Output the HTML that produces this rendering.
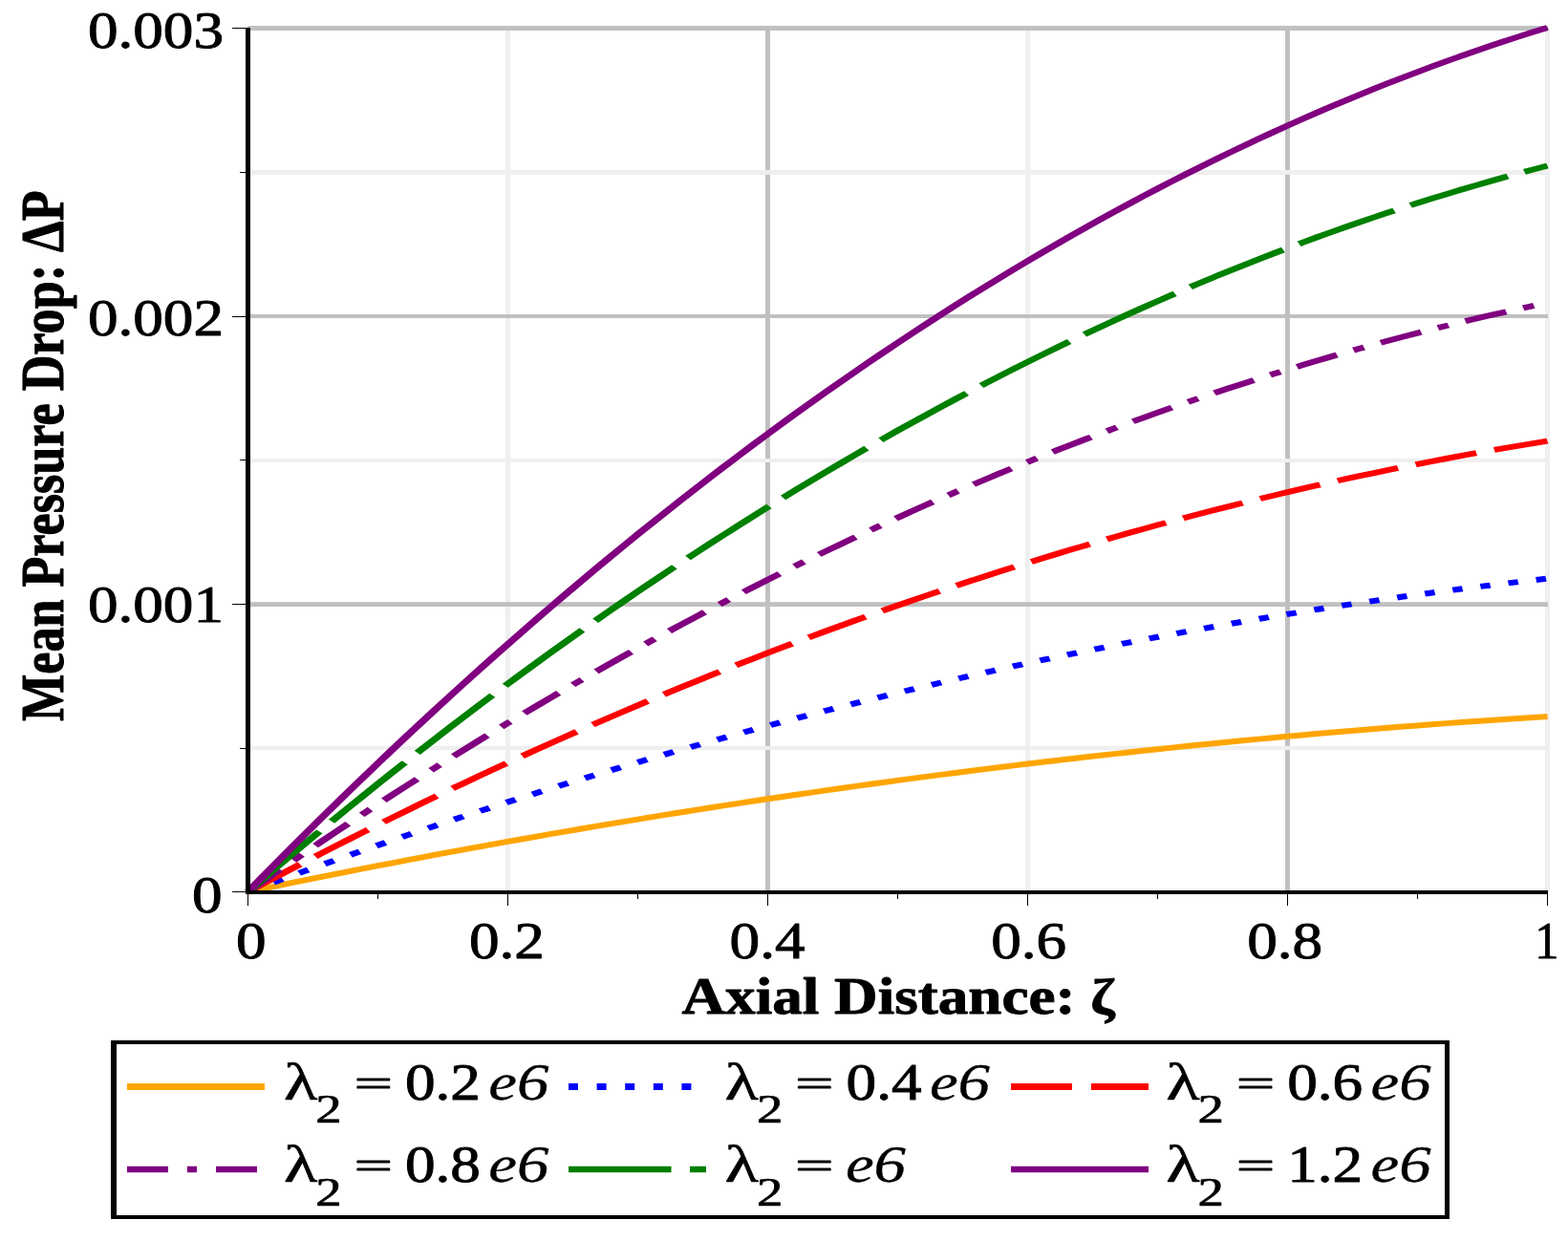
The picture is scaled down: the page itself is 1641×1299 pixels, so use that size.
<!DOCTYPE html>
<html lang="en"><head><meta charset="utf-8"><title>Mean Pressure Drop vs Axial Distance</title>
<style>html,body{margin:0;padding:0;background:#fff}body{width:1641px;height:1299px;overflow:hidden}</style></head>
<body>
<svg width="1641" height="1299" viewBox="0 0 1641 1299" role="img" aria-label="Mean pressure drop versus axial distance for six values of lambda 2" style="display:block"><defs><clipPath id="cp"><rect x="0" y="0" width="1157.50" height="1299"/></clipPath><clipPath id="lc"><rect x="0" y="1080" width="1641" height="200"/></clipPath></defs><rect x="0" y="0" width="1641" height="1299" fill="#fff"/>
<g id="grid">
<rect x="529" y="29" width="5" height="904" fill="#efefef"/>
<rect x="801" y="29" width="5" height="904" fill="#c0c0c0"/>
<rect x="1073" y="29" width="5" height="904" fill="#efefef"/>
<rect x="1345" y="29" width="5" height="904" fill="#c0c0c0"/>
<rect x="1617" y="29" width="5" height="904" fill="#efefef"/>
<rect x="262.6" y="780.8" width="1359.4" height="4.3" fill="#efefef"/>
<rect x="259" y="630.2" width="1361" height="4.8" fill="#c0c0c0"/>
<rect x="262.6" y="480" width="1359.4" height="4" fill="#efefef"/>
<rect x="259" y="329" width="1361" height="4" fill="#c0c0c0"/>
<rect x="262.6" y="177.9" width="1359.4" height="5" fill="#efefef"/>
<rect x="259" y="27" width="1361" height="5" fill="#c0c0c0"/>
</g>
<g id="curves" fill="none" stroke-width="6.0" transform="scale(1.4 1)" clip-path="url(#cp)">
<path d="M185.36,933.50 L196.15,930.37 L206.94,927.26 L217.74,924.18 L228.53,921.13 L239.33,918.10 L250.12,915.09 L260.91,912.11 L271.71,909.15 L282.50,906.21 L293.29,903.30 L304.09,900.42 L314.88,897.56 L325.67,894.72 L336.47,891.91 L347.26,889.13 L358.06,886.36 L368.85,883.63 L379.64,880.91 L390.44,878.22 L401.23,875.56 L412.02,872.92 L422.82,870.31 L433.61,867.71 L444.40,865.15 L455.20,862.61 L465.99,860.09 L476.79,857.60 L487.58,855.13 L498.37,852.69 L509.17,850.27 L519.96,847.87 L530.75,845.50 L541.55,843.16 L552.34,840.84 L563.13,838.54 L573.93,836.27 L584.72,834.02 L595.52,831.80 L606.31,829.60 L617.10,827.43 L627.90,825.28 L638.69,823.15 L649.48,821.05 L660.28,818.98 L671.07,816.92 L681.87,814.90 L692.66,812.89 L703.45,810.92 L714.25,808.96 L725.04,807.04 L735.83,805.13 L746.63,803.25 L757.42,801.40 L768.21,799.57 L779.01,797.76 L789.80,795.98 L800.60,794.22 L811.39,792.49 L822.18,790.78 L832.98,789.10 L843.77,787.44 L854.56,785.80 L865.36,784.19 L876.15,782.61 L886.94,781.05 L897.74,779.51 L908.53,778.00 L919.33,776.51 L930.12,775.05 L940.91,773.61 L951.71,772.20 L962.50,770.81 L973.29,769.44 L984.09,768.10 L994.88,766.78 L1005.67,765.49 L1016.47,764.23 L1027.26,762.98 L1038.06,761.77 L1048.85,760.57 L1059.64,759.40 L1070.44,758.26 L1081.23,757.14 L1092.02,756.04 L1102.82,754.97 L1113.61,753.93 L1124.40,752.91 L1135.20,751.91 L1145.99,750.94 L1156.79,749.99" stroke="#ffa500"/>
<path d="M185.36,933.50 L196.15,927.91 L206.94,922.36 L217.74,916.86 L228.53,911.40 L239.33,905.98 L250.12,900.61 L260.91,895.28 L271.71,889.99 L282.50,884.75 L293.29,879.55 L304.09,874.40 L314.88,869.29 L325.67,864.22 L336.47,859.20 L347.26,854.22 L358.06,849.29 L368.85,844.40 L379.64,839.55 L390.44,834.75 L401.23,829.99 L412.02,825.27 L422.82,820.60 L433.61,815.97 L444.40,811.39 L455.20,806.85 L465.99,802.35 L476.79,797.90 L487.58,793.49 L498.37,789.12 L509.17,784.80 L519.96,780.52 L530.75,776.29 L541.55,772.10 L552.34,767.95 L563.13,763.85 L573.93,759.79 L584.72,755.78 L595.52,751.81 L606.31,747.88 L617.10,743.99 L627.90,740.15 L638.69,736.36 L649.48,732.61 L660.28,728.90 L671.07,725.23 L681.87,721.61 L692.66,718.03 L703.45,714.50 L714.25,711.01 L725.04,707.57 L735.83,704.16 L746.63,700.81 L757.42,697.49 L768.21,694.22 L779.01,690.99 L789.80,687.81 L800.60,684.67 L811.39,681.58 L822.18,678.53 L832.98,675.52 L843.77,672.55 L854.56,669.63 L865.36,666.76 L876.15,663.92 L886.94,661.14 L897.74,658.39 L908.53,655.69 L919.33,653.03 L930.12,650.42 L940.91,647.85 L951.71,645.32 L962.50,642.84 L973.29,640.40 L984.09,638.01 L994.88,635.66 L1005.67,633.35 L1016.47,631.09 L1027.26,628.87 L1038.06,626.69 L1048.85,624.56 L1059.64,622.47 L1070.44,620.43 L1081.23,618.43 L1092.02,616.47 L1102.82,614.56 L1113.61,612.69 L1124.40,610.86 L1135.20,609.08 L1145.99,607.34 L1156.79,605.65" stroke="#0000ff" stroke-dasharray="7.63 13.87 7.62 13.87 7.62 13.86 7.62 13.85 7.61 13.85 7.61 13.84 7.61 13.83 7.60 13.83 7.60 13.82 7.60 13.81 7.59 13.81 7.59 13.80 7.58 13.79 7.58 13.79 7.58 13.78 7.57 13.77 7.57 13.77 7.57 13.76 7.56 13.75 7.56 13.75 7.56 13.74 7.55 13.74 7.55 13.73 7.55 13.72 7.54 13.72 7.54 13.71 7.54 13.71 7.53 13.70 7.53 13.70 7.53 13.69 7.52 13.68 7.52 13.68 7.52 13.67 7.52 13.67 7.51 13.66 7.51 13.66 7.51 13.65 7.50 13.65 7.50 13.64 7.50 13.64 7.50 13.64 7.50 13.63 7.49 13.63 7.49 13.62 7.49 13.62 7.49 13.62 7.48 13.61 7.48 13.61 7.48 1.10"/>
<path d="M185.36,933.50 L196.15,925.45 L206.94,917.47 L217.74,909.54 L228.53,901.69 L239.33,893.89 L250.12,886.16 L260.91,878.49 L271.71,870.88 L282.50,863.33 L293.29,855.85 L304.09,848.44 L314.88,841.08 L325.67,833.79 L336.47,826.56 L347.26,819.39 L358.06,812.29 L368.85,805.25 L379.64,798.28 L390.44,791.36 L401.23,784.51 L412.02,777.72 L422.82,771.00 L433.61,764.34 L444.40,757.74 L455.20,751.20 L465.99,744.73 L476.79,738.32 L487.58,731.98 L498.37,725.69 L509.17,719.47 L519.96,713.32 L530.75,707.22 L541.55,701.19 L552.34,695.22 L563.13,689.32 L573.93,683.47 L584.72,677.70 L595.52,671.98 L606.31,666.33 L617.10,660.74 L627.90,655.21 L638.69,649.75 L649.48,644.35 L660.28,639.01 L671.07,633.73 L681.87,628.52 L692.66,623.37 L703.45,618.29 L714.25,613.26 L725.04,608.31 L735.83,603.41 L746.63,598.58 L757.42,593.80 L768.21,589.10 L779.01,584.45 L789.80,579.87 L800.60,575.35 L811.39,570.90 L822.18,566.51 L832.98,562.18 L843.77,557.91 L854.56,553.71 L865.36,549.57 L876.15,545.49 L886.94,541.48 L897.74,537.53 L908.53,533.64 L919.33,529.81 L930.12,526.05 L940.91,522.35 L951.71,518.72 L962.50,515.14 L973.29,511.63 L984.09,508.19 L994.88,504.80 L1005.67,501.48 L1016.47,498.22 L1027.26,495.03 L1038.06,491.90 L1048.85,488.83 L1059.64,485.82 L1070.44,482.88 L1081.23,480.00 L1092.02,477.19 L1102.82,474.43 L1113.61,471.74 L1124.40,469.12 L1135.20,466.55 L1145.99,464.05 L1156.79,461.61" stroke="#ff0000" stroke-dasharray="48.42 14.14 48.33 14.12 48.24 14.09 48.15 14.06 48.05 14.03 47.96 14.00 47.86 13.98 47.77 13.95 47.67 13.92 47.57 13.89 47.48 13.86 47.39 13.84 47.30 13.81 47.21 13.79 47.12 13.76 47.05 13.74 46.97 13.72 40.85 50.00"/>
<path d="M185.36,933.50 L196.15,922.98 L206.94,912.55 L217.74,902.20 L228.53,891.93 L239.33,881.75 L250.12,871.64 L260.91,861.62 L271.71,851.68 L282.50,841.83 L293.29,832.05 L304.09,822.36 L314.88,812.75 L325.67,803.23 L336.47,793.78 L347.26,784.42 L358.06,775.14 L368.85,765.94 L379.64,756.83 L390.44,747.79 L401.23,738.84 L412.02,729.98 L422.82,721.19 L433.61,712.49 L444.40,703.87 L455.20,695.33 L465.99,686.87 L476.79,678.50 L487.58,670.21 L498.37,662.00 L509.17,653.87 L519.96,645.83 L530.75,637.86 L541.55,629.98 L552.34,622.19 L563.13,614.47 L573.93,606.84 L584.72,599.29 L595.52,591.82 L606.31,584.43 L617.10,577.13 L627.90,569.91 L638.69,562.77 L649.48,555.72 L660.28,548.74 L671.07,541.85 L681.87,535.04 L692.66,528.31 L703.45,521.67 L714.25,515.11 L725.04,508.63 L735.83,502.23 L746.63,495.92 L757.42,489.68 L768.21,483.53 L779.01,477.47 L789.80,471.48 L800.60,465.58 L811.39,459.76 L822.18,454.02 L832.98,448.36 L843.77,442.79 L854.56,437.30 L865.36,431.89 L876.15,426.56 L886.94,421.32 L897.74,416.15 L908.53,411.07 L919.33,406.08 L930.12,401.16 L940.91,396.33 L951.71,391.58 L962.50,386.91 L973.29,382.33 L984.09,377.82 L994.88,373.40 L1005.67,369.06 L1016.47,364.81 L1027.26,360.63 L1038.06,356.54 L1048.85,352.53 L1059.64,348.61 L1070.44,344.76 L1081.23,341.00 L1092.02,337.32 L1102.82,333.72 L1113.61,330.21 L1124.40,326.78 L1135.20,323.43 L1145.99,320.16 L1156.79,316.97" stroke="#800080" stroke-dasharray="33.47 13.91 8.64 13.90 33.40 13.88 8.62 13.87 33.33 13.85 8.60 13.83 33.25 13.81 8.58 13.80 33.17 13.78 8.56 13.77 33.09 13.74 8.54 13.73 33.00 13.71 8.52 13.70 32.92 13.67 8.49 13.66 32.83 13.63 8.47 13.62 32.73 13.60 8.45 13.58 32.64 13.56 8.42 13.54 32.55 13.52 8.40 13.50 32.45 13.48 8.37 13.47 32.36 13.44 8.35 13.43 32.27 13.40 8.33 13.39 32.18 13.37 8.31 13.35 32.10 13.33 8.28 10.61"/>
<path d="M185.36,933.50 L196.15,920.54 L206.94,907.68 L217.74,894.92 L228.53,882.26 L239.33,869.71 L250.12,857.25 L260.91,844.90 L271.71,832.65 L282.50,820.50 L293.29,808.45 L304.09,796.51 L314.88,784.66 L325.67,772.92 L336.47,761.28 L347.26,749.74 L358.06,738.30 L368.85,726.96 L379.64,715.73 L390.44,704.59 L401.23,693.56 L412.02,682.63 L422.82,671.80 L433.61,661.07 L444.40,650.44 L455.20,639.92 L465.99,629.49 L476.79,619.17 L487.58,608.95 L498.37,598.83 L509.17,588.81 L519.96,578.90 L530.75,569.08 L541.55,559.37 L552.34,549.76 L563.13,540.25 L573.93,530.84 L584.72,521.53 L595.52,512.33 L606.31,503.23 L617.10,494.22 L627.90,485.32 L638.69,476.52 L649.48,467.82 L660.28,459.23 L671.07,450.73 L681.87,442.34 L692.66,434.05 L703.45,425.86 L714.25,417.77 L725.04,409.78 L735.83,401.90 L746.63,394.11 L757.42,386.43 L768.21,378.85 L779.01,371.37 L789.80,363.99 L800.60,356.71 L811.39,349.54 L822.18,342.47 L832.98,335.49 L843.77,328.62 L854.56,321.85 L865.36,315.19 L876.15,308.62 L886.94,302.16 L897.74,295.79 L908.53,289.53 L919.33,283.37 L930.12,277.31 L940.91,271.36 L951.71,265.50 L962.50,259.75 L973.29,254.10 L984.09,248.54 L994.88,243.10 L1005.67,237.75 L1016.47,232.50 L1027.26,227.36 L1038.06,222.31 L1048.85,217.37 L1059.64,212.53 L1070.44,207.79 L1081.23,203.16 L1092.02,198.62 L1102.82,194.19 L1113.61,189.85 L1124.40,185.62 L1135.20,181.49 L1145.99,177.46 L1156.79,173.54" stroke="#008000" stroke-dasharray="82.67 13.95 82.45 13.91 82.21 13.87 81.95 13.82 81.67 13.77 81.37 13.72 81.05 13.67 80.71 13.61 80.35 13.54 79.97 13.48 79.59 13.41 79.20 13.35 78.82 13.29 18.35 50.00"/>
<path d="M185.36,933.50 L196.15,918.07 L206.94,902.76 L217.74,887.58 L228.53,872.51 L239.33,857.57 L250.12,842.74 L260.91,828.04 L271.71,813.46 L282.50,798.99 L293.29,784.65 L304.09,770.43 L314.88,756.33 L325.67,742.36 L336.47,728.50 L347.26,714.76 L358.06,701.15 L368.85,687.65 L379.64,674.28 L390.44,661.02 L401.23,647.89 L412.02,634.88 L422.82,621.99 L433.61,609.22 L444.40,596.57 L455.20,584.04 L465.99,571.63 L476.79,559.35 L487.58,547.18 L498.37,535.14 L509.17,523.21 L519.96,511.41 L530.75,499.73 L541.55,488.17 L552.34,476.72 L563.13,465.40 L573.93,454.21 L584.72,443.13 L595.52,432.17 L606.31,421.33 L617.10,410.62 L627.90,400.02 L638.69,389.55 L649.48,379.20 L660.28,368.96 L671.07,358.85 L681.87,348.86 L692.66,338.99 L703.45,329.24 L714.25,319.61 L725.04,310.11 L735.83,300.72 L746.63,291.45 L757.42,282.31 L768.21,273.28 L779.01,264.38 L789.80,255.60 L800.60,246.94 L811.39,238.40 L822.18,229.98 L832.98,221.68 L843.77,213.50 L854.56,205.44 L865.36,197.51 L876.15,189.69 L886.94,182.00 L897.74,174.42 L908.53,166.97 L919.33,159.64 L930.12,152.42 L940.91,145.33 L951.71,138.36 L962.50,131.52 L973.29,124.79 L984.09,118.18 L994.88,111.69 L1005.67,105.33 L1016.47,99.08 L1027.26,92.96 L1038.06,86.96 L1048.85,81.07 L1059.64,75.31 L1070.44,69.67 L1081.23,64.15 L1092.02,58.75 L1102.82,53.48 L1113.61,48.32 L1124.40,43.28 L1135.20,38.37 L1145.99,33.57 L1156.79,28.90" stroke="#800080"/>
</g>
<g id="axes" fill="#000">
<rect x="257" y="29" width="5" height="907" fill="#000"/>
<rect x="257" y="932" width="1363" height="4" fill="#000"/>
<rect x="243" y="933" width="14" height="1" fill="#000"/>
<rect x="251" y="783" width="6" height="1" fill="#000"/>
<rect x="243" y="632" width="14" height="1" fill="#000"/>
<rect x="251" y="481" width="6" height="1" fill="#000"/>
<rect x="243" y="331" width="14" height="1" fill="#000"/>
<rect x="251" y="180" width="6" height="1" fill="#000"/>
<rect x="243" y="29" width="14" height="1" fill="#000"/>
<rect x="259" y="936" width="1" height="12" fill="#000"/>
<rect x="395" y="936" width="1" height="5" fill="#000"/>
<rect x="531" y="936" width="1" height="12" fill="#000"/>
<rect x="667" y="936" width="1" height="5" fill="#000"/>
<rect x="803" y="936" width="1" height="12" fill="#000"/>
<rect x="939" y="936" width="1" height="5" fill="#000"/>
<rect x="1075" y="936" width="1" height="12" fill="#000"/>
<rect x="1211" y="936" width="1" height="5" fill="#000"/>
<rect x="1347" y="936" width="1" height="12" fill="#000"/>
<rect x="1483" y="936" width="1" height="5" fill="#000"/>
<rect x="1619" y="936" width="1" height="12" fill="#000"/>
</g>
<g id="labels" font-family="Liberation Serif, serif" fill="#000" stroke="#000" stroke-linejoin="round">
<text transform="translate(91.90 50.30) scale(1.1700 1.0000)" font-size="54" stroke-width="0.9">0.003</text>
<text transform="translate(91.90 350.80) scale(1.1700 1.0000)" font-size="54" stroke-width="0.9">0.002</text>
<text transform="translate(91.90 650.80) scale(1.1700 1.0000)" font-size="54" stroke-width="0.9">0.001</text>
<text transform="translate(201.00 954.70) scale(1.1700 1.0000)" font-size="54" stroke-width="0.9">0</text>
<text transform="translate(246.90 1002.80) scale(1.1700 1.0000)" font-size="54" stroke-width="0.9">0</text>
<text transform="translate(491.00 1002.80) scale(1.1700 1.0000)" font-size="54" stroke-width="0.9">0.2</text>
<text transform="translate(763.60 1002.80) scale(1.1700 1.0000)" font-size="54" stroke-width="0.9">0.4</text>
<text transform="translate(1037.20 1002.80) scale(1.1700 1.0000)" font-size="54" stroke-width="0.9">0.6</text>
<text transform="translate(1305.20 1002.80) scale(1.1700 1.0000)" font-size="54" stroke-width="0.9">0.8</text>
<text transform="translate(1606.30 1002.80) scale(0.9300 1.0000)" font-size="54" stroke-width="0.9">1</text>
<text transform="translate(713.50 1061.30) scale(1.1690 1.0000)" font-size="54" font-weight="bold" stroke-width="0.9">Axial Distance: <tspan font-size="52.5" dx="0">ζ</tspan></text>
<text transform="translate(66.00 755.00) rotate(-90) scale(0.9660 1.1900)" font-size="54" font-weight="bold" stroke-width="0.9">Mean Pressure Drop: ΔP</text>
</g>
<g id="legend">
<rect x="116" y="1089" width="1401" height="4" fill="#000"/>
<rect x="116" y="1272" width="1401" height="4" fill="#000"/>
<rect x="116" y="1089" width="6" height="187" fill="#000"/>
<rect x="1512" y="1089" width="5" height="187" fill="#000"/>
<g fill="none" clip-path="url(#lc)">
<path d="M133,1137.5 h144" stroke="#ffa500" stroke-width="7"/>
<path d="M595,1137.5 h144" stroke="#0000ff" stroke-width="7" stroke-dasharray="10 19.6"/>
<path d="M1058,1137.5 h144" stroke="#ff0000" stroke-width="7" stroke-dasharray="64 20"/>
<path d="M133,1224 h144" stroke="#800080" stroke-width="6.4" stroke-dasharray="43 20 10 20"/>
<path d="M595,1224 h144" stroke="#008000" stroke-width="6.4" stroke-dasharray="107.5 19.5"/>
<path d="M1058,1224 h144" stroke="#800080" stroke-width="6.4"/>
</g>
<g font-family="Liberation Serif, serif" fill="#000" stroke="#000" stroke-linejoin="round">
<text transform="translate(297.00 1151.00) scale(1.3500 1.0000)" font-size="54" stroke-width="0.6">λ</text>
<text transform="translate(330.30 1175.20) scale(1.2800 1.0000)" font-size="42.8" stroke-width="0.7">2</text>
<text transform="translate(371.00 1146.90) scale(1.3000 0.7200)" font-size="54" stroke-width="1.7">=</text>
<text transform="translate(424.00 1151.00) scale(1.1700 1.0000)" font-size="54" stroke-width="0.9">0.2</text>
<text transform="translate(511.30 1151.00) scale(1.2400 1.0000)" font-size="54" font-style="italic" stroke-width="0.3">e6</text>
<text transform="translate(758.60 1151.00) scale(1.3500 1.0000)" font-size="54" stroke-width="0.6">λ</text>
<text transform="translate(791.90 1175.20) scale(1.2800 1.0000)" font-size="42.8" stroke-width="0.7">2</text>
<text transform="translate(832.60 1146.90) scale(1.3000 0.7200)" font-size="54" stroke-width="1.7">=</text>
<text transform="translate(885.60 1151.00) scale(1.1700 1.0000)" font-size="54" stroke-width="0.9">0.4</text>
<text transform="translate(972.90 1151.00) scale(1.2400 1.0000)" font-size="54" font-style="italic" stroke-width="0.3">e6</text>
<text transform="translate(1220.20 1151.00) scale(1.3500 1.0000)" font-size="54" stroke-width="0.6">λ</text>
<text transform="translate(1253.50 1175.20) scale(1.2800 1.0000)" font-size="42.8" stroke-width="0.7">2</text>
<text transform="translate(1294.20 1146.90) scale(1.3000 0.7200)" font-size="54" stroke-width="1.7">=</text>
<text transform="translate(1347.20 1151.00) scale(1.1700 1.0000)" font-size="54" stroke-width="0.9">0.6</text>
<text transform="translate(1434.50 1151.00) scale(1.2400 1.0000)" font-size="54" font-style="italic" stroke-width="0.3">e6</text>
<text transform="translate(297.00 1237.40) scale(1.3500 1.0000)" font-size="54" stroke-width="0.6">λ</text>
<text transform="translate(330.30 1261.60) scale(1.2800 1.0000)" font-size="42.8" stroke-width="0.7">2</text>
<text transform="translate(371.00 1233.30) scale(1.3000 0.7200)" font-size="54" stroke-width="1.7">=</text>
<text transform="translate(424.00 1237.40) scale(1.1700 1.0000)" font-size="54" stroke-width="0.9">0.8</text>
<text transform="translate(511.30 1237.40) scale(1.2400 1.0000)" font-size="54" font-style="italic" stroke-width="0.3">e6</text>
<text transform="translate(758.60 1237.40) scale(1.3500 1.0000)" font-size="54" stroke-width="0.6">λ</text>
<text transform="translate(791.90 1261.60) scale(1.2800 1.0000)" font-size="42.8" stroke-width="0.7">2</text>
<text transform="translate(832.60 1233.30) scale(1.3000 0.7200)" font-size="54" stroke-width="1.7">=</text>
<text transform="translate(884.90 1237.40) scale(1.2400 1.0000)" font-size="54" font-style="italic" stroke-width="0.3">e6</text>
<text transform="translate(1220.20 1237.40) scale(1.3500 1.0000)" font-size="54" stroke-width="0.6">λ</text>
<text transform="translate(1253.50 1261.60) scale(1.2800 1.0000)" font-size="42.8" stroke-width="0.7">2</text>
<text transform="translate(1294.20 1233.30) scale(1.3000 0.7200)" font-size="54" stroke-width="1.7">=</text>
<text transform="translate(1347.20 1237.40) scale(1.1700 1.0000)" font-size="54" stroke-width="0.9">1.2</text>
<text transform="translate(1434.50 1237.40) scale(1.2400 1.0000)" font-size="54" font-style="italic" stroke-width="0.3">e6</text>
</g></g></svg>
</body></html>
